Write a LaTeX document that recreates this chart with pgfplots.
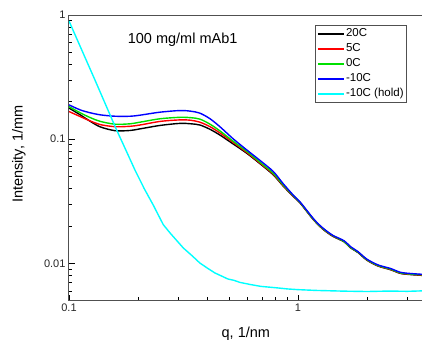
\documentclass[border=0pt]{standalone}
\usepackage{pgfplots}
\pgfplotsset{compat=1.18}
\usepackage{fontspec}
\setmainfont{Liberation Sans}
\definecolor{axcol}{HTML}{505050}
\definecolor{cgreen}{HTML}{00E000}
\definecolor{ccyan}{HTML}{00FFFF}
\definecolor{cred}{HTML}{FF0000}
\definecolor{cblue}{HTML}{0000FF}
\begin{document}
\begin{tikzpicture}
\begin{axis}[
  name=ax,
  scale only axis,
  width=353pt, height=285.7pt,
  xmode=log, ymode=log,
  xmin=0.1, xmax=3.48, ymin=0.005, ymax=1,
  axis lines*=left,
  axis line style={axcol, line width=1pt},
  every tick/.style={black, line width=0.7pt},
  major tick length=6pt, minor tick length=3.5pt,
  tick align=inside,
  xtick={0.1,1}, xticklabels={0.1,1},
  ytick={0.01,0.1,1}, yticklabels={0.01,0.1,1},
  minor xtick={0.2,0.3,0.4,0.5,0.6,0.7,0.8,0.9,2,3},
  minor ytick={0.006,0.007,0.008,0.009,0.02,0.03,0.04,0.05,0.06,0.07,0.08,0.09,0.2,0.3,0.4,0.5,0.6,0.7,0.8,0.9},
  /pgf/number format/assume math mode=true,
  ticklabel style={font=\fontsize{11}{13}\selectfont, text=black!85},
  xlabel={q, 1/nm}, ylabel={Intensity, 1/mm},
  xlabel style={at={(axis description cs:0.501,-0.1295)}, anchor=base, font=\fontsize{14.5}{17}\selectfont},
  ylabel style={at={(axis description cs:-0.1317,0.513)}, anchor=base, rotate=0, font=\fontsize{14.5}{17}\selectfont},
  legend cell align=left,
  legend image code/.code={\draw[#1, line width=1.4pt] (0pt,0pt) -- (26pt,0pt);},
  legend style={at={(axis description cs:0.9575,0.965)}, anchor=north east,
    draw=axcol, line width=0.8pt, inner xsep=1.5pt, inner ysep=1pt,
    font=\fontsize{11.5}{13}\selectfont,
    nodes={inner xsep=1.5pt, inner ysep=2pt, text height=8.5pt, text depth=2.5pt}},
]
\addplot[black, line width=1.4pt, smooth] coordinates {
(0.100,0.178)(0.112,0.157)(0.124,0.139)(0.137,0.1256)(0.159,0.117)(0.185,0.1175)(0.204,0.121)
(0.250,0.129)(0.305,0.134)(0.340,0.133)(0.373,0.130)(0.413,0.120)(0.456,0.108)(0.520,0.0917)
(0.597,0.0771)(0.682,0.0635)(0.780,0.0516)(0.860,0.0421)(0.955,0.0345)(1.02,0.0307)(1.14,0.0237)
(1.21,0.0209)(1.30,0.0185)(1.42,0.0165)(1.59,0.0149)(1.69,0.0134)(1.83,0.0122)(2.00,0.0106)
(2.24,0.0095)(2.53,0.0089)(2.80,0.00830)(3.10,0.00812)(3.48,0.00800)};
\addlegendentry{20C}
\addplot[cred, line width=1.4pt, smooth] coordinates {
(0.100,0.167)(0.112,0.152)(0.124,0.140)(0.137,0.131)(0.159,0.126)(0.185,0.127)(0.204,0.130)
(0.250,0.139)(0.305,0.143)(0.340,0.142)(0.373,0.137)(0.413,0.126)(0.456,0.1124)(0.520,0.0945)
(0.597,0.0783)(0.682,0.0643)(0.780,0.0523)(0.860,0.0425)(0.955,0.0347)(1.02,0.0309)(1.14,0.0238)
(1.21,0.0210)(1.30,0.0186)(1.42,0.0166)(1.59,0.0150)(1.69,0.0135)(1.83,0.0123)(2.00,0.01065)
(2.24,0.00955)(2.53,0.00895)(2.80,0.00834)(3.10,0.00816)(3.48,0.00804)};
\addlegendentry{5C}
\addplot[cgreen, line width=1.4pt, smooth] coordinates {
(0.100,0.183)(0.112,0.163)(0.124,0.149)(0.137,0.139)(0.159,0.132)(0.185,0.133)(0.204,0.137)
(0.250,0.146)(0.305,0.150)(0.340,0.149)(0.373,0.145)(0.413,0.132)(0.456,0.1166)(0.520,0.0965)
(0.597,0.0798)(0.682,0.0653)(0.780,0.0531)(0.860,0.0430)(0.955,0.0350)(1.02,0.0310)(1.14,0.0239)
(1.21,0.0211)(1.30,0.0187)(1.42,0.0167)(1.59,0.0150)(1.69,0.0135)(1.83,0.0123)(2.00,0.0107)
(2.24,0.0096)(2.53,0.0090)(2.80,0.00838)(3.10,0.00820)(3.48,0.00808)};
\addlegendentry{0C}
\addplot[cblue, line width=1.4pt, smooth] coordinates {
(0.100,0.189)(0.112,0.172)(0.124,0.163)(0.137,0.157)(0.159,0.153)(0.185,0.153)(0.204,0.156)
(0.250,0.165)(0.305,0.170)(0.340,0.168)(0.373,0.162)(0.413,0.146)(0.456,0.126)(0.520,0.101)
(0.597,0.082)(0.682,0.0675)(0.780,0.0549)(0.860,0.0440)(0.955,0.0353)(1.02,0.0313)(1.14,0.0242)
(1.21,0.0213)(1.30,0.0189)(1.42,0.0168)(1.59,0.0152)(1.69,0.0137)(1.83,0.0124)(2.00,0.0108)
(2.24,0.0097)(2.53,0.0091)(2.80,0.00847)(3.10,0.00828)(3.48,0.00816)};
\addlegendentry{-10C}
\addplot[ccyan, line width=1.4pt] coordinates {
(0.100,0.895)(0.130,0.298)(0.160,0.123)(0.177,0.082)(0.194,0.0566)(0.213,0.0400)(0.233,0.0296)
(0.258,0.0205)(0.276,0.0176)(0.296,0.0152)(0.316,0.01327)(0.345,0.0115)(0.373,0.01005)
(0.404,0.0091)(0.434,0.00836)(0.464,0.0079)(0.494,0.00748)(0.525,0.0073)(0.558,0.00702)
(0.62,0.00675)(0.689,0.00652)(0.80,0.00636)(0.90,0.00622)(1.00,0.00614)(1.2,0.00605)
(1.59,0.00597)(2.0,0.00593)(2.5,0.00598)(3.0,0.00595)(3.48,0.00600)};
\addlegendentry{-10C (hold)}
\draw[axcol, line width=1pt] (rel axis cs:0,1) -- (rel axis cs:1,1);
\node[anchor=base, font=\fontsize{14.5}{17}\selectfont] at (axis description cs:0.322,0.902) {100 mg/ml mAb1};
\coordinate (bl) at (rel axis cs:0,0);
\coordinate (tr) at (rel axis cs:1,1);
\end{axis}
\pgfresetboundingbox
\path ([xshift=-69pt,yshift=-48.3pt]bl) rectangle ([yshift=15pt]tr);
\end{tikzpicture}
\end{document}
